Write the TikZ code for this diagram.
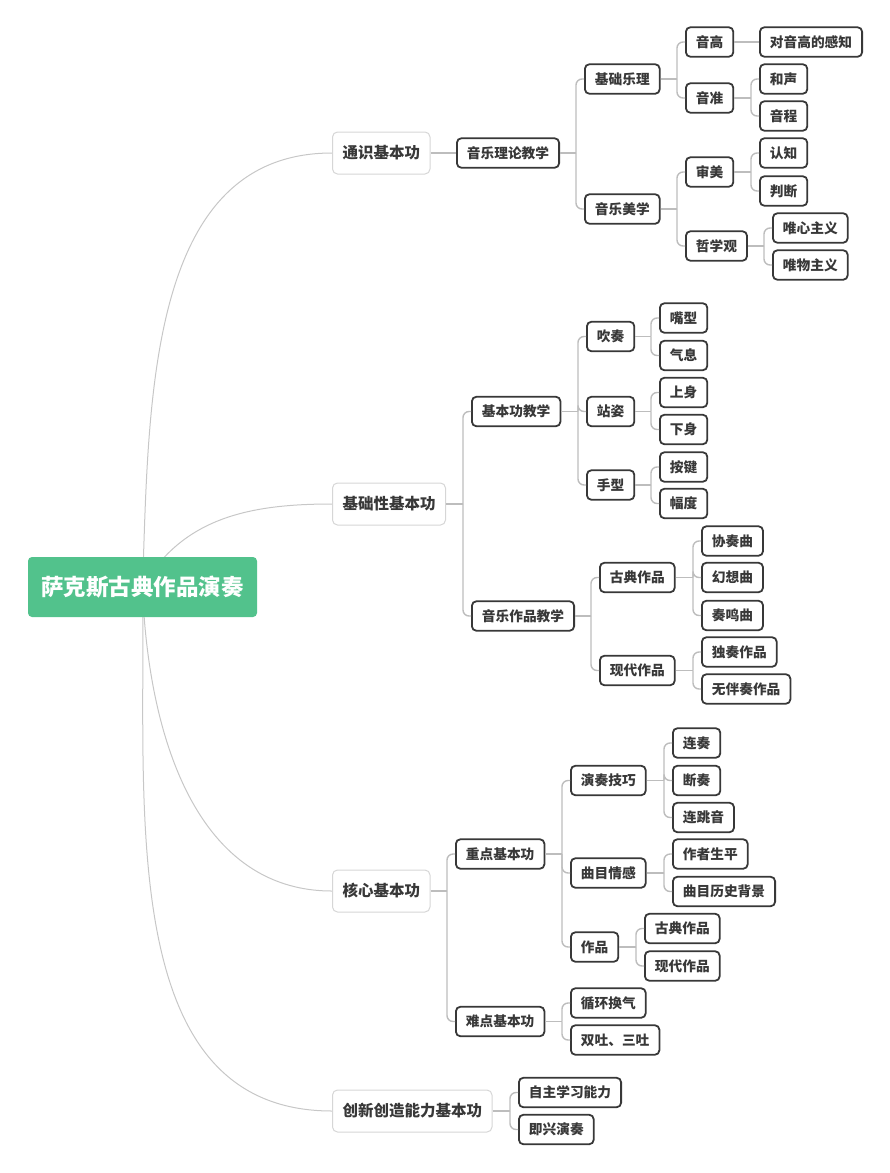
\documentclass[tikz,border=0pt]{standalone}
\usepackage{fontspec}
\setmainfont{Noto Sans CJK SC}
\usetikzlibrary{calc,backgrounds}
\definecolor{rootgreen}{HTML}{52C28C}
\definecolor{boxgray}{HTML}{383838}
\definecolor{linegray}{HTML}{BDBDBD}
\definecolor{topicgray}{HTML}{D6D6D6}

\begin{document}
\begin{tikzpicture}[x=1pt,y=-1pt,
    root/.style={fill=rootgreen,rounded corners=4pt,text=white,inner sep=0pt,
      font=\fontsize{22.5}{26}\selectfont\bfseries,minimum width=229pt,minimum height=60pt},
    topic/.style={draw=topicgray,line width=1pt,fill=white,rounded corners=5pt,anchor=west,
      text=boxgray,font=\fontsize{15.5}{18}\selectfont\bfseries,minimum height=42pt,inner xsep=10pt},
    sub/.style={draw=boxgray,line width=1.8pt,fill=white,rounded corners=4.5pt,anchor=west,
      text=boxgray,font=\fontsize{13.7}{16}\selectfont\bfseries,minimum height=29.5pt,inner xsep=10pt},
    trunk/.style={draw=linegray!85,line width=1pt},
    link/.style={draw=linegray,line width=1.4pt,rounded corners=6pt}]
    \useasboundingbox (0,0) rectangle (890,1173);
    \node[root] (root) at (142.5,587) {萨克斯古典作品演奏};%
    \node[topic] (tongshi) at (332,153) {通识基本功};
    \node[topic] (jichu) at (332,504) {基础性基本功};
    \node[topic] (hexin) at (332,891) {核心基本功};
    \node[topic] (chuangxin) at (332,1111) {创新创造能力基本功};%
    \node[sub] (llxj) at (456,153) {音乐理论教学};
    \node[sub] (jcyl) at (584,79) {基础乐理};
    \node[sub] (yymx) at (584,209) {音乐美学};
    \node[sub] (yg) at (685,42) {音高};
    \node[sub] (yz) at (685,98) {音准};
    \node[sub] (sm) at (685,172) {审美};
    \node[sub] (zxg) at (685,246) {哲学观};
    \node[sub] (dyg) at (759,42) {对音高的感知};
    \node[sub] (hs) at (759,79) {和声};
    \node[sub] (yc) at (759,116) {音程};
    \node[sub] (rz) at (759,153) {认知};
    \node[sub] (pd) at (759,191) {判断};
    \node[sub] (wx) at (772,228) {唯心主义};
    \node[sub] (ww) at (772,265) {唯物主义};%
    \node[sub] (jbgjx) at (471,411.5) {基本功教学};
    \node[sub] (yyzp) at (471,616) {音乐作品教学};
    \node[sub] (cz) at (586,336.5) {吹奏};
    \node[sub] (zz) at (586,411.5) {站姿};
    \node[sub] (sx) at (586,485) {手型};
    \node[sub] (zx) at (659,318) {嘴型};
    \node[sub] (qx) at (659,355.5) {气息};
    \node[sub] (ss) at (659,392.5) {上身};
    \node[sub] (xs) at (659,429.5) {下身};
    \node[sub] (aj) at (659,467) {按键};
    \node[sub] (fd) at (659,503.5) {幅度};
    \node[sub] (gdzp) at (599,577.5) {古典作品};
    \node[sub] (xdzp) at (599,670.5) {现代作品};
    \node[sub] (xzq) at (701,541) {协奏曲};
    \node[sub] (hxq) at (701,577.5) {幻想曲};
    \node[sub] (zmq) at (701,615.5) {奏鸣曲};
    \node[sub] (dzzp) at (701,652) {独奏作品};
    \node[sub] (wbzzp) at (701,689) {无伴奏作品};%
    \node[sub] (zdjbg) at (455,854) {重点基本功};
    \node[sub] (ndjbg) at (455,1021.5) {难点基本功};
    \node[sub] (yzjq) at (570,780.5) {演奏技巧};
    \node[sub] (qmqg) at (570,873) {曲目情感};
    \node[sub] (zp) at (570,947) {作品};
    \node[sub] (lz) at (672,743) {连奏};
    \node[sub] (dz) at (672,780.5) {断奏};
    \node[sub] (lty) at (672,817.5) {连跳音};
    \node[sub] (zzsp) at (672,854) {作者生平};
    \node[sub] (qmls) at (672,891.5) {曲目历史背景};
    \node[sub] (gd2) at (644,928.5) {古典作品};
    \node[sub] (xd2) at (644,966) {现代作品};
    \node[sub] (xhhq) at (570,1003) {循环换气};
    \node[sub] (stst) at (570,1040) {双吐、三吐};%
    \node[sub] (zzxx) at (518,1092.5) {自主学习能力};
    \node[sub] (jxyz) at (518,1129.5) {即兴演奏};%
    \begin{pgfonlayer}{background}
    \draw[trunk] (root.center) to[out=88,in=180] (tongshi.west);
    \draw[trunk] (root.center) to[out=60,in=180] (jichu.west);
    \draw[trunk] (root.center) to[out=-88,in=180] (hexin.west);
    \draw[trunk] (root.center) to[out=-89,in=180] (chuangxin.west);
    \end{pgfonlayer}%
    \coordinate (j1) at ($(llxj.east -| jcyl.west)+(-8,0)$);
    \coordinate (j2) at ($(jcyl.east -| yg.west)+(-8,0)$);
    \coordinate (j3) at ($(yz.east -| hs.west)+(-8,0)$);
    \coordinate (j4) at ($(yymx.east -| sm.west)+(-8,0)$);
    \coordinate (j5) at ($(sm.east -| rz.west)+(-8,0)$);
    \coordinate (j6) at ($(zxg.east -| wx.west)+(-8,0)$);%
    \draw[link] (tongshi.east) -- (llxj.west);
    \draw[link] (llxj.east) -- (j1);
    \draw[link] (j1) |- (jcyl.west);
    \draw[link] (j1) |- (yymx.west);
    \draw[link] (jcyl.east) -- (j2);
    \draw[link] (j2) |- (yg.west);
    \draw[link] (j2) |- (yz.west);
    \draw[link] (yg.east) -- (dyg.west);
    \draw[link] (yz.east) -- (j3);
    \draw[link] (j3) |- (hs.west);
    \draw[link] (j3) |- (yc.west);
    \draw[link] (yymx.east) -- (j4);
    \draw[link] (j4) |- (sm.west);
    \draw[link] (j4) |- (zxg.west);
    \draw[link] (sm.east) -- (j5);
    \draw[link] (j5) |- (rz.west);
    \draw[link] (j5) |- (pd.west);
    \draw[link] (zxg.east) -- (j6);
    \draw[link] (j6) |- (wx.west);
    \draw[link] (j6) |- (ww.west);%
    \coordinate (j7) at ($(jichu.east -| jbgjx.west)+(-8,0)$);
    \coordinate (j8) at ($(jbgjx.east -| cz.west)+(-8,0)$);
    \coordinate (j9) at ($(cz.east -| zx.west)+(-8,0)$);
    \coordinate (j10) at ($(zz.east -| ss.west)+(-8,0)$);
    \coordinate (j11) at ($(sx.east -| aj.west)+(-8,0)$);
    \coordinate (j12) at ($(yyzp.east -| gdzp.west)+(-8,0)$);
    \coordinate (j13) at ($(gdzp.east -| xzq.west)+(-8,0)$);
    \coordinate (j14) at ($(xdzp.east -| dzzp.west)+(-8,0)$);%
    \draw[link] (jichu.east) -- (j7);
    \draw[link] (j7) |- (jbgjx.west);
    \draw[link] (j7) |- (yyzp.west);
    \draw[link] (jbgjx.east) -- (j8);
    \draw[link] (j8) |- (cz.west);
    \draw[link] (j8) |- (zz.west);
    \draw[link] (j8) |- (sx.west);
    \draw[link] (cz.east) -- (j9);
    \draw[link] (j9) |- (zx.west);
    \draw[link] (j9) |- (qx.west);
    \draw[link] (zz.east) -- (j10);
    \draw[link] (j10) |- (ss.west);
    \draw[link] (j10) |- (xs.west);
    \draw[link] (sx.east) -- (j11);
    \draw[link] (j11) |- (aj.west);
    \draw[link] (j11) |- (fd.west);
    \draw[link] (yyzp.east) -- (j12);
    \draw[link] (j12) |- (gdzp.west);
    \draw[link] (j12) |- (xdzp.west);
    \draw[link] (gdzp.east) -- (j13);
    \draw[link] (j13) |- (xzq.west);
    \draw[link] (j13) |- (hxq.west);
    \draw[link] (j13) |- (zmq.west);
    \draw[link] (xdzp.east) -- (j14);
    \draw[link] (j14) |- (dzzp.west);
    \draw[link] (j14) |- (wbzzp.west);%
    \coordinate (j15) at ($(hexin.east -| zdjbg.west)+(-8,0)$);
    \coordinate (j16) at ($(zdjbg.east -| yzjq.west)+(-8,0)$);
    \coordinate (j17) at ($(yzjq.east -| lz.west)+(-8,0)$);
    \coordinate (j18) at ($(qmqg.east -| zzsp.west)+(-8,0)$);
    \coordinate (j19) at ($(zp.east -| gd2.west)+(-8,0)$);
    \coordinate (j20) at ($(ndjbg.east -| xhhq.west)+(-8,0)$);
    \coordinate (j21) at ($(chuangxin.east -| zzxx.west)+(-8,0)$);%
    \draw[link] (hexin.east) -- (j15);
    \draw[link] (j15) |- (zdjbg.west);
    \draw[link] (j15) |- (ndjbg.west);
    \draw[link] (zdjbg.east) -- (j16);
    \draw[link] (j16) |- (yzjq.west);
    \draw[link] (j16) |- (qmqg.west);
    \draw[link] (j16) |- (zp.west);
    \draw[link] (yzjq.east) -- (j17);
    \draw[link] (j17) |- (lz.west);
    \draw[link] (j17) |- (dz.west);
    \draw[link] (j17) |- (lty.west);
    \draw[link] (qmqg.east) -- (j18);
    \draw[link] (j18) |- (zzsp.west);
    \draw[link] (j18) |- (qmls.west);
    \draw[link] (zp.east) -- (j19);
    \draw[link] (j19) |- (gd2.west);
    \draw[link] (j19) |- (xd2.west);
    \draw[link] (ndjbg.east) -- (j20);
    \draw[link] (j20) |- (xhhq.west);
    \draw[link] (j20) |- (stst.west);
    \draw[link] (chuangxin.east) -- (j21);
    \draw[link] (j21) |- (zzxx.west);
    \draw[link] (j21) |- (jxyz.west);%
\end{tikzpicture}
\end{document}
